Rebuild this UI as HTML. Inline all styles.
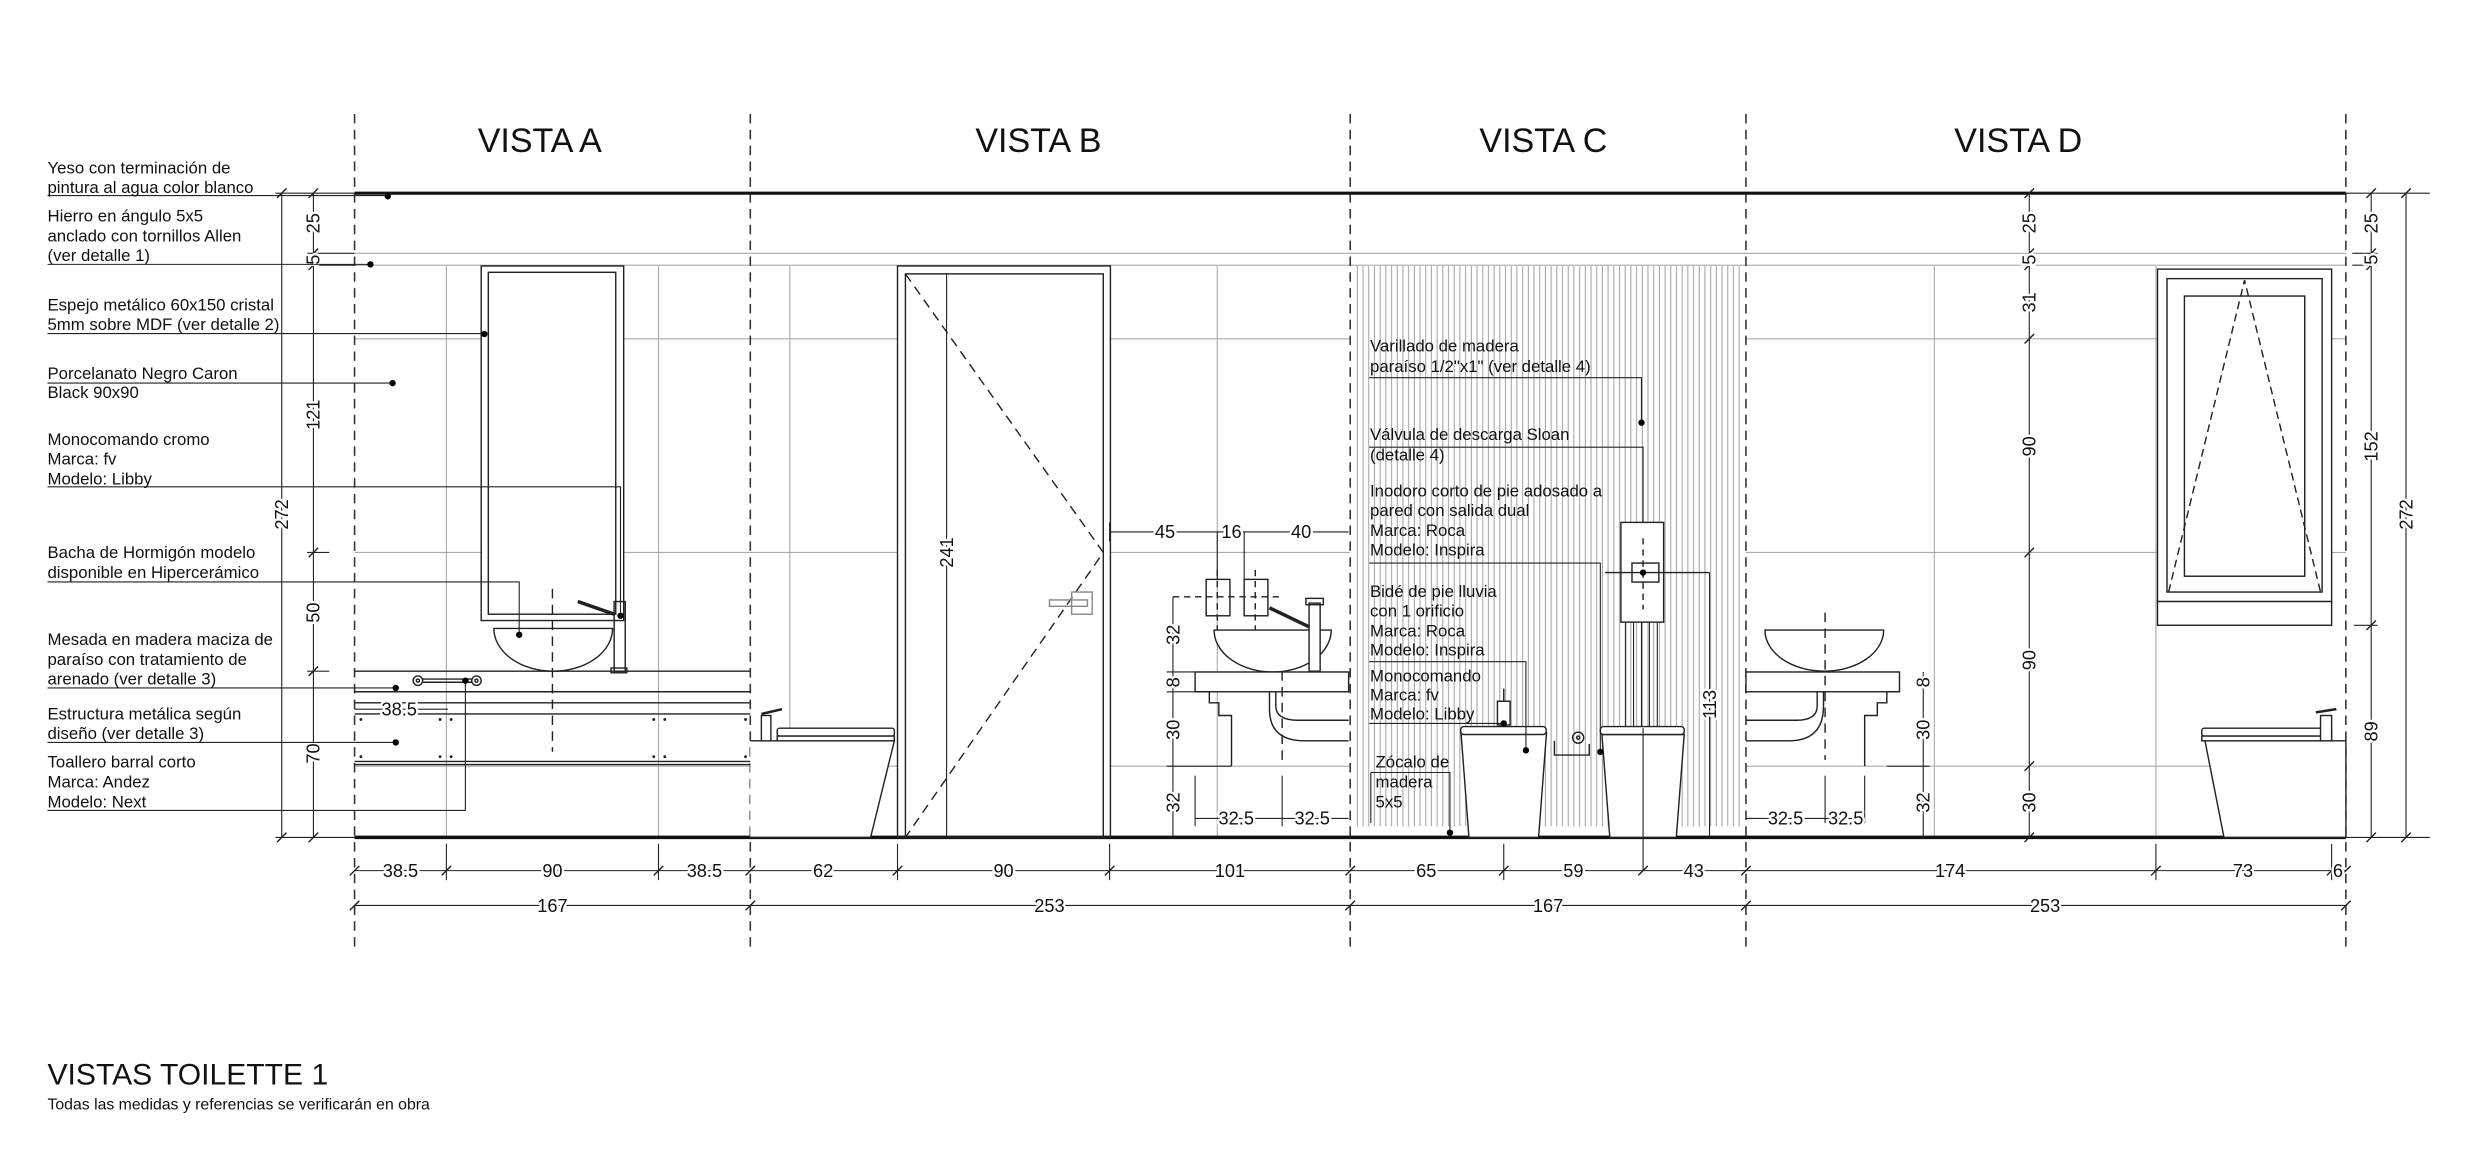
<!DOCTYPE html>
<html><head><meta charset="utf-8"><style>
html,body{margin:0;padding:0;background:#fff}
svg{display:block}
text{font-family:"Liberation Sans",Arial,sans-serif;fill:#111}
.l{font-size:10.6px}
.d{font-size:11.5px;paint-order:stroke;stroke:#fff;stroke-width:3px;stroke-linejoin:round}
.t{font-size:21.5px}
</style></head><body>
<svg width="2482" height="1173" viewBox="0 0 1568 741" xmlns="http://www.w3.org/2000/svg">
<defs>
<pattern id="hatch" x="857" y="0" width="3.6" height="10" patternUnits="userSpaceOnUse">
<line x1="0.5" y1="0" x2="0.5" y2="10" stroke="#999" stroke-width="0.6"/>
</pattern>
</defs>
<rect width="1568" height="741" fill="#fff"/>

<rect x="855" y="168" width="246" height="354" fill="url(#hatch)"/>
<rect x="1024" y="330" width="27" height="63" fill="#fff"/>

<g stroke="#aaa" stroke-width="0.7" fill="none">
<line x1="224" y1="214" x2="305" y2="214"/><line x1="394" y1="214" x2="567" y2="214"/><line x1="701" y1="214" x2="853" y2="214"/>
<line x1="224" y1="349" x2="305" y2="349"/><line x1="394" y1="349" x2="567" y2="349"/><line x1="701" y1="349" x2="853" y2="349"/>
<line x1="224" y1="484" x2="474" y2="484"/><line x1="474" y1="484" x2="567" y2="484"/><line x1="701" y1="484" x2="853" y2="484"/>
<line x1="1103" y1="214" x2="1363" y2="214"/><line x1="1473" y1="214" x2="1482" y2="214"/>
<line x1="1103" y1="349" x2="1363" y2="349"/><line x1="1473" y1="349" x2="1482" y2="349"/>
<line x1="1103" y1="484" x2="1482" y2="484"/>
<line x1="282" y1="168" x2="282" y2="529"/><line x1="416" y1="168" x2="416" y2="529"/>
<line x1="499" y1="168" x2="499" y2="529"/><line x1="769" y1="168" x2="769" y2="529"/>
<line x1="1222" y1="168" x2="1222" y2="529"/><line x1="1362" y1="168" x2="1362" y2="529"/>
<line x1="224" y1="160" x2="1482" y2="160"/>
<line x1="224" y1="167.5" x2="1482" y2="167.5"/>
</g>

<g stroke="#333" stroke-width="1" stroke-dasharray="6,4">
<line x1="224" y1="72" x2="224" y2="602"/><line x1="474" y1="72" x2="474" y2="602"/>
<line x1="853" y1="72" x2="853" y2="602"/><line x1="1103" y1="72" x2="1103" y2="602"/>
<line x1="1482" y1="72" x2="1482" y2="602"/>
</g>

<text class="t" x="341" y="96" text-anchor="middle">VISTA A</text>
<text class="t" x="656" y="96" text-anchor="middle">VISTA B</text>
<text class="t" x="975" y="96" text-anchor="middle">VISTA C</text>
<text class="t" x="1275" y="96" text-anchor="middle">VISTA D</text>

<line x1="224" y1="122" x2="1482" y2="122" stroke="#111" stroke-width="2"/>
<line x1="224" y1="529" x2="1482" y2="529" stroke="#111" stroke-width="2.2"/>

<g stroke="#222" stroke-width="0.9" fill="none">
<rect x="304" y="168" width="90" height="224" fill="#fff"/>
<rect x="308.5" y="172" width="80.5" height="216"/>
<path d="M312 397 A37.5 27 0 0 0 387 397 Z" fill="#fff"/>
<line x1="349" y1="372" x2="349" y2="475" stroke-dasharray="6,4"/>
<rect x="388" y="380" width="7" height="44"/>
<line x1="365" y1="380" x2="388" y2="388" stroke-width="2.2"/>
<rect x="386" y="422" width="10" height="3"/>
<line x1="224" y1="424" x2="474" y2="424"/>
<line x1="224" y1="437" x2="474" y2="437"/>
<line x1="224" y1="444" x2="474" y2="444"/>
<line x1="224" y1="451" x2="474" y2="451"/>
<line x1="224" y1="481" x2="474" y2="481"/>
<line x1="224" y1="483" x2="474" y2="483"/>
<circle cx="264" cy="430" r="3"/><circle cx="264" cy="430" r="1"/>
<circle cx="301" cy="430" r="3"/><circle cx="301" cy="430" r="1"/>
<line x1="267" y1="429" x2="298" y2="429"/><line x1="267" y1="431" x2="298" y2="431"/>
<line x1="224" y1="448" x2="283" y2="448" stroke-width="0.7"/>
</g>
<text class="d" x="241" y="452">38.5</text>
<g fill="#222">
<circle cx="228" cy="454.5" r="0.9"/><circle cx="278" cy="454.5" r="0.9"/><circle cx="285" cy="454.5" r="0.9"/><circle cx="413" cy="454.5" r="0.9"/><circle cx="420" cy="454.5" r="0.9"/><circle cx="471" cy="454.5" r="0.9"/>
<circle cx="228" cy="478" r="0.9"/><circle cx="278" cy="478" r="0.9"/><circle cx="285" cy="478" r="0.9"/><circle cx="413" cy="478" r="0.9"/><circle cx="420" cy="478" r="0.9"/><circle cx="471" cy="478" r="0.9"/>
</g>

<g stroke="#222" stroke-width="0.9" fill="#fff">
<path d="M474 468 L565 468 L550 529 L474 529"/>
<rect x="491" y="460" width="74" height="5" rx="1.5"/>
<rect x="491" y="465" width="74" height="3"/>
<rect x="481" y="452" width="6" height="16"/>
<line x1="481" y1="451" x2="494" y2="448" stroke-width="1.6"/>
</g>

<g stroke="#222" stroke-width="0.9" fill="none">
<rect x="567" y="168" width="134.5" height="361"/>
<rect x="572" y="173" width="125" height="356"/>
<path d="M572 173 L697 349 L572 529" stroke-dasharray="6,4"/>
<line x1="598" y1="173" x2="598" y2="529" stroke-width="0.7"/>
<rect x="663" y="379" width="24" height="4" stroke="#888"/>
<rect x="677" y="374" width="13" height="14" stroke="#888"/>
<line x1="701" y1="336" x2="852" y2="336" stroke-width="0.7"/>
<line x1="769" y1="336" x2="769" y2="366" stroke-width="0.7"/>
<line x1="786" y1="336" x2="786" y2="366" stroke-width="0.7"/>
<line x1="701" y1="330" x2="701" y2="342" stroke-width="0.7"/>
<rect x="762" y="366" width="15" height="23"/>
<rect x="786" y="366" width="15" height="23"/>
<line x1="741" y1="377" x2="810" y2="377" stroke-dasharray="4,3"/>
<line x1="769" y1="360" x2="769" y2="398" stroke-dasharray="4,3"/>
<line x1="793" y1="360" x2="793" y2="398" stroke-dasharray="4,3"/>
<path d="M767 398 A37 26.5 0 0 0 841 398 Z" fill="#fff"/>
<rect x="755" y="424.5" width="97" height="12.5" fill="#fff"/>
<path d="M755 437 L764 437 L764 444 L770 444 L770 452 L778 452 L778 484" />
<path d="M802 437 L802 448 Q802 468 824 468 L852 468"/>
<path d="M806 437 L806 446 Q806 455 820 455 L852 455"/>
<line x1="810" y1="424" x2="810" y2="484" stroke-dasharray="6,4"/>
<rect x="827" y="381" width="7" height="43" fill="#fff"/>
<line x1="802" y1="384" x2="827" y2="396" stroke-width="2.2"/>
<rect x="825" y="378" width="11" height="4"/>
<line x1="741" y1="377" x2="741" y2="529" stroke-width="0.7"/>
<line x1="737" y1="424.5" x2="755" y2="424.5" stroke-width="0.7"/>
<line x1="737" y1="437" x2="755" y2="437" stroke-width="0.7"/>
<line x1="737" y1="484" x2="778" y2="484" stroke-width="0.7"/>
<line x1="755" y1="490" x2="755" y2="522" stroke-width="0.7"/>
<line x1="810" y1="490" x2="810" y2="522" stroke-width="0.7"/>
<line x1="755" y1="517" x2="852" y2="517" stroke-width="0.7"/>
</g>
<text class="d" x="736" y="340" text-anchor="middle">45</text>
<text class="d" x="778" y="340" text-anchor="middle">16</text>
<text class="d" x="822" y="340" text-anchor="middle">40</text>
<g transform="translate(745,401) rotate(-90)"><text class="d" text-anchor="middle">32</text></g>
<g transform="translate(745,431) rotate(-90)"><text class="d" text-anchor="middle">8</text></g>
<g transform="translate(745,461) rotate(-90)"><text class="d" text-anchor="middle">30</text></g>
<g transform="translate(745,507) rotate(-90)"><text class="d" text-anchor="middle">32</text></g>
<g transform="translate(602,349) rotate(-90)"><text class="d" text-anchor="middle">241</text></g>
<text class="d" x="781" y="521" text-anchor="middle">32.5</text>
<text class="d" x="829" y="521" text-anchor="middle">32.5</text>

<g stroke="#222" stroke-width="0.9" fill="#fff">
<rect x="1024" y="330" width="27" height="63"/>
<rect x="1031" y="355.7" width="17" height="12"/>
<line x1="1038" y1="340" x2="1038" y2="385" stroke-dasharray="4,3" fill="none"/>
<line x1="1014" y1="361.7" x2="1080" y2="361.7" fill="none"/>
<line x1="1080" y1="361.7" x2="1080" y2="529" stroke-width="0.7" fill="none"/>
<g fill="none" stroke-width="0.7">
<line x1="1027" y1="393" x2="1027" y2="460"/><line x1="1032" y1="393" x2="1032" y2="460"/><line x1="1037" y1="393" x2="1037" y2="460"/><line x1="1042" y1="393" x2="1042" y2="460"/><line x1="1047" y1="393" x2="1047" y2="460"/>
</g>
<path d="M923 463 L977 463 L972 529 L928 529 Z"/>
<rect x="922.8" y="459" width="54" height="5" rx="2"/>
<rect x="946" y="443" width="8" height="15"/>
<line x1="950" y1="435" x2="950" y2="443" fill="none"/>
<circle cx="997" cy="466" r="3.5" fill="none"/><circle cx="997" cy="466" r="1" fill="none"/>
<path d="M982 468 L982 477 L1004 477 L1004 470" fill="none"/>
<path d="M1012 464 L1064 464 L1059 529 L1017 529 Z"/>
<rect x="1011" y="459" width="53" height="5" rx="2"/>
<line x1="1038" y1="460" x2="1038" y2="550" stroke-width="0.7" fill="none"/>
</g>
<g transform="translate(1084,445) rotate(-90)"><text class="d" text-anchor="middle">113</text></g>

<g stroke="#222" stroke-width="0.7" fill="none">
<polyline points="865,238.6 1037,238.6 1037,267"/>
<polyline points="865,282.5 1038,282.5 1038,330"/>
<polyline points="865,355.7 1011,355.7 1011,475"/>
<polyline points="865,418 964,418 964,474"/>
<polyline points="865,457 950,457"/>
<polyline points="866,488 916,488 916,526"/>
<line x1="866" y1="488" x2="866" y2="520"/>
</g>
<g fill="#000"><circle cx="1037" cy="267" r="2"/><circle cx="1038" cy="361.7" r="2"/><circle cx="1011" cy="475" r="2"/><circle cx="964" cy="474" r="2"/><circle cx="950" cy="457" r="2"/><circle cx="916" cy="526" r="2"/></g>
<g>
<text class="l" x="865.5" y="222">Varillado de madera</text>
<text class="l" x="865.5" y="235">paraíso 1/2"x1" (ver detalle 4)</text>
<text class="l" x="865.5" y="278">Válvula de descarga Sloan</text>
<text class="l" x="865.5" y="291">(detalle 4)</text>
<text class="l" x="865.5" y="313.5">Inodoro corto de pie adosado a</text>
<text class="l" x="865.5" y="326">pared con salida dual</text>
<text class="l" x="865.5" y="338.5">Marca: Roca</text>
<text class="l" x="865.5" y="351">Modelo: Inspira</text>
<text class="l" x="865.5" y="377">Bidé de pie lluvia</text>
<text class="l" x="865.5" y="389.5">con 1 orificio</text>
<text class="l" x="865.5" y="402">Marca: Roca</text>
<text class="l" x="865.5" y="414">Modelo: Inspira</text>
<text class="l" x="865.5" y="430.5">Monocomando</text>
<text class="l" x="865.5" y="442.5">Marca: fv</text>
<text class="l" x="865.5" y="454.5">Modelo: Libby</text>
<text class="l" x="869" y="485">Zócalo de</text>
<text class="l" x="869" y="497.5">madera</text>
<text class="l" x="869" y="510">5x5</text>
</g>

<g stroke="#222" stroke-width="0.9" fill="#fff">
<path d="M1115 398 A37.5 26 0 0 0 1190 398 Z"/>
<rect x="1103" y="424.5" width="97" height="12.5"/>
<path d="M1200 437 L1192 437 L1192 444 L1186 444 L1186 452 L1178 452 L1178 484" fill="none"/>
<path d="M1152 437 L1152 446 Q1152 468 1130 468 L1103 468" fill="none"/>
<path d="M1148 437 L1148 446 Q1148 455 1135 455 L1103 455" fill="none"/>
<line x1="1153" y1="387" x2="1153" y2="480" stroke-dasharray="6,4" fill="none"/>
<line x1="1215" y1="424.5" x2="1215" y2="529" stroke-width="0.7" fill="none"/>
<line x1="1192" y1="484" x2="1219" y2="484" stroke-width="0.7" fill="none"/>
<line x1="1103" y1="517" x2="1178" y2="517" stroke-width="0.7" fill="none"/>
<line x1="1178" y1="490" x2="1178" y2="520" stroke-width="0.7" fill="none"/>
<line x1="1153" y1="490" x2="1153" y2="520" stroke-width="0.7" fill="none"/>
<rect x="1363" y="170" width="110" height="210"/>
<rect x="1369" y="176" width="98" height="198"/>
<rect x="1380" y="187" width="76" height="177"/>
<path d="M1370 374 L1418 177 L1466 374" fill="none" stroke-dasharray="5,3"/>
<rect x="1363" y="380" width="110" height="15"/>
<path d="M1393 468 L1482 468 L1482 529 L1405 529 Z"/>
<rect x="1391" y="460" width="82" height="5" rx="1.5"/>
<rect x="1391" y="465" width="82" height="3"/>
<rect x="1466" y="452" width="7" height="16"/>
<line x1="1463" y1="450" x2="1476" y2="448" stroke-width="1.6"/>
</g>
<g transform="translate(1219,431) rotate(-90)"><text class="d" text-anchor="middle">8</text></g>
<g transform="translate(1219,461) rotate(-90)"><text class="d" text-anchor="middle">30</text></g>
<g transform="translate(1219,507) rotate(-90)"><text class="d" text-anchor="middle">32</text></g>
<text class="d" x="1128" y="521" text-anchor="middle">32.5</text>
<text class="d" x="1166" y="521" text-anchor="middle">32.5</text>

<g stroke="#222" stroke-width="0.7" fill="none">
<line x1="178" y1="122" x2="178" y2="529"/>
<line x1="198" y1="122" x2="198" y2="529"/>
<line x1="174" y1="122" x2="224" y2="122"/>
<line x1="174" y1="529" x2="224" y2="529"/>
<line x1="194" y1="160" x2="224" y2="160"/>
<line x1="194" y1="167.5" x2="224" y2="167.5"/>
<line x1="194" y1="349" x2="208" y2="349"/>
<line x1="194" y1="424" x2="208" y2="424"/>
<line x1="1282" y1="122" x2="1282" y2="529"/>
<line x1="1498" y1="122" x2="1498" y2="529"/>
<line x1="1520" y1="122" x2="1520" y2="529"/>
<line x1="1482" y1="122" x2="1535" y2="122"/>
<line x1="1482" y1="529" x2="1535" y2="529"/>
<line x1="1486" y1="160" x2="1502" y2="160"/>
<line x1="1486" y1="167.5" x2="1502" y2="167.5"/>
<line x1="1487" y1="395" x2="1502" y2="395"/>
<g stroke-width="0.9">
<line x1="175" y1="125" x2="181" y2="119"/><line x1="175" y1="532" x2="181" y2="526"/>
<line x1="195" y1="125" x2="201" y2="119"/><line x1="195" y1="163" x2="201" y2="157"/><line x1="195" y1="170.5" x2="201" y2="164.5"/><line x1="195" y1="352" x2="201" y2="346"/><line x1="195" y1="427" x2="201" y2="421"/><line x1="195" y1="532" x2="201" y2="526"/>
<line x1="1279" y1="125" x2="1285" y2="119"/><line x1="1279" y1="163" x2="1285" y2="157"/><line x1="1279" y1="170.5" x2="1285" y2="164.5"/><line x1="1279" y1="217" x2="1285" y2="211"/><line x1="1279" y1="352" x2="1285" y2="346"/><line x1="1279" y1="487" x2="1285" y2="481"/><line x1="1279" y1="532" x2="1285" y2="526"/>
<line x1="1495" y1="125" x2="1501" y2="119"/><line x1="1495" y1="163" x2="1501" y2="157"/><line x1="1495" y1="170.5" x2="1501" y2="164.5"/><line x1="1495" y1="398" x2="1501" y2="392"/><line x1="1495" y1="532" x2="1501" y2="526"/>
<line x1="1517" y1="125" x2="1523" y2="119"/><line x1="1517" y1="532" x2="1523" y2="526"/>
</g>
</g>
<g>
<g transform="translate(202,141) rotate(-90)"><text class="d" text-anchor="middle">25</text></g>
<g transform="translate(202,164) rotate(-90)"><text class="d" text-anchor="middle">5</text></g>
<g transform="translate(202,262) rotate(-90)"><text class="d" text-anchor="middle">121</text></g>
<g transform="translate(202,387) rotate(-90)"><text class="d" text-anchor="middle">50</text></g>
<g transform="translate(202,476) rotate(-90)"><text class="d" text-anchor="middle">70</text></g>
<g transform="translate(182,325) rotate(-90)"><text class="d" text-anchor="middle">272</text></g>
<g transform="translate(1286,141) rotate(-90)"><text class="d" text-anchor="middle">25</text></g>
<g transform="translate(1286,164) rotate(-90)"><text class="d" text-anchor="middle">5</text></g>
<g transform="translate(1286,191) rotate(-90)"><text class="d" text-anchor="middle">31</text></g>
<g transform="translate(1286,282) rotate(-90)"><text class="d" text-anchor="middle">90</text></g>
<g transform="translate(1286,417) rotate(-90)"><text class="d" text-anchor="middle">90</text></g>
<g transform="translate(1286,507) rotate(-90)"><text class="d" text-anchor="middle">30</text></g>
<g transform="translate(1502,141) rotate(-90)"><text class="d" text-anchor="middle">25</text></g>
<g transform="translate(1502,164) rotate(-90)"><text class="d" text-anchor="middle">5</text></g>
<g transform="translate(1502,282) rotate(-90)"><text class="d" text-anchor="middle">152</text></g>
<g transform="translate(1502,462) rotate(-90)"><text class="d" text-anchor="middle">89</text></g>
<g transform="translate(1524,325) rotate(-90)"><text class="d" text-anchor="middle">272</text></g>
</g>

<g stroke="#222" stroke-width="0.7" fill="none">
<line x1="224" y1="550" x2="1482" y2="550"/>
<line x1="224" y1="572" x2="1482" y2="572"/>
<line x1="282" y1="533" x2="282" y2="556"/><line x1="416" y1="533" x2="416" y2="556"/>
<line x1="567" y1="533" x2="567" y2="556"/><line x1="701" y1="533" x2="701" y2="556"/>
<line x1="950" y1="533" x2="950" y2="556"/>
<line x1="1362" y1="533" x2="1362" y2="556"/><line x1="1473" y1="533" x2="1473" y2="556"/>
<g stroke-width="0.9">
<line x1="221" y1="553" x2="227" y2="547"/><line x1="279" y1="553" x2="285" y2="547"/><line x1="413" y1="553" x2="419" y2="547"/><line x1="471" y1="553" x2="477" y2="547"/><line x1="564" y1="553" x2="570" y2="547"/><line x1="698" y1="553" x2="704" y2="547"/><line x1="850" y1="553" x2="856" y2="547"/><line x1="947" y1="553" x2="953" y2="547"/><line x1="1035" y1="553" x2="1041" y2="547"/><line x1="1100" y1="553" x2="1106" y2="547"/><line x1="1359" y1="553" x2="1365" y2="547"/><line x1="1470" y1="553" x2="1476" y2="547"/><line x1="1479" y1="553" x2="1485" y2="547"/>
<line x1="221" y1="575" x2="227" y2="569"/><line x1="471" y1="575" x2="477" y2="569"/><line x1="850" y1="575" x2="856" y2="569"/><line x1="1100" y1="575" x2="1106" y2="569"/><line x1="1479" y1="575" x2="1485" y2="569"/>
</g>
</g>
<g>
<text class="d" x="253" y="554" text-anchor="middle">38.5</text>
<text class="d" x="349" y="554" text-anchor="middle">90</text>
<text class="d" x="445" y="554" text-anchor="middle">38.5</text>
<text class="d" x="520" y="554" text-anchor="middle">62</text>
<text class="d" x="634" y="554" text-anchor="middle">90</text>
<text class="d" x="777" y="554" text-anchor="middle">101</text>
<text class="d" x="901" y="554" text-anchor="middle">65</text>
<text class="d" x="994" y="554" text-anchor="middle">59</text>
<text class="d" x="1070" y="554" text-anchor="middle">43</text>
<text class="d" x="1232" y="554" text-anchor="middle">174</text>
<text class="d" x="1417" y="554" text-anchor="middle">73</text>
<text class="d" x="1477" y="554" text-anchor="middle">6</text>
<text class="d" x="349" y="576" text-anchor="middle">167</text>
<text class="d" x="663" y="576" text-anchor="middle">253</text>
<text class="d" x="978" y="576" text-anchor="middle">167</text>
<text class="d" x="1292" y="576" text-anchor="middle">253</text>
</g>

<g stroke="#222" stroke-width="0.7" fill="none">
<line x1="30" y1="123.5" x2="245" y2="123.5"/>
<line x1="30" y1="167" x2="234" y2="167"/>
<line x1="30" y1="210.7" x2="306" y2="210.7"/>
<line x1="30" y1="242" x2="248" y2="242"/>
<polyline points="30,307.5 392,307.5 392,389"/>
<polyline points="30,367.6 328,367.6 328,401"/>
<line x1="30" y1="434.6" x2="250" y2="434.6"/>
<line x1="30" y1="469" x2="250" y2="469"/>
<polyline points="30,512 294,512 294,430"/>
</g>
<g fill="#000">
<circle cx="245" cy="124" r="2"/><circle cx="234" cy="167" r="2"/><circle cx="306" cy="211" r="2"/><circle cx="248" cy="242" r="2"/><circle cx="392" cy="389" r="2"/><circle cx="328" cy="401" r="2"/><circle cx="250" cy="434.6" r="2"/><circle cx="250" cy="469" r="2"/><circle cx="294" cy="430" r="2"/>
</g>
<g>
<text class="l" x="30" y="109.5">Yeso con terminación de</text>
<text class="l" x="30" y="122">pintura al agua color blanco</text>
<text class="l" x="30" y="140">Hierro en ángulo 5x5</text>
<text class="l" x="30" y="152.5">anclado con tornillos Allen</text>
<text class="l" x="30" y="165">(ver detalle 1)</text>
<text class="l" x="30" y="196">Espejo metálico 60x150 cristal</text>
<text class="l" x="30" y="208.6">5mm sobre MDF (ver detalle 2)</text>
<text class="l" x="30" y="239.5">Porcelanato Negro Caron</text>
<text class="l" x="30" y="251.5">Black 90x90</text>
<text class="l" x="30" y="281">Monocomando cromo</text>
<text class="l" x="30" y="293.5">Marca: fv</text>
<text class="l" x="30" y="306">Modelo: Libby</text>
<text class="l" x="30" y="352.5">Bacha de Hormigón modelo</text>
<text class="l" x="30" y="365">disponible en Hipercerámico</text>
<text class="l" x="30" y="407.5">Mesada en madera maciza de</text>
<text class="l" x="30" y="420">paraíso con tratamiento de</text>
<text class="l" x="30" y="432.5">arenado (ver detalle 3)</text>
<text class="l" x="30" y="454.5">Estructura metálica según</text>
<text class="l" x="30" y="467">diseño (ver detalle 3)</text>
<text class="l" x="30" y="485">Toallero barral corto</text>
<text class="l" x="30" y="497.5">Marca: Andez</text>
<text class="l" x="30" y="510">Modelo: Next</text>
</g>

<text x="30" y="685" style="font-size:19px">VISTAS TOILETTE 1</text>
<text x="30" y="701" style="font-size:10px">Todas las medidas y referencias se verificarán en obra</text>
</svg>
</body></html>
